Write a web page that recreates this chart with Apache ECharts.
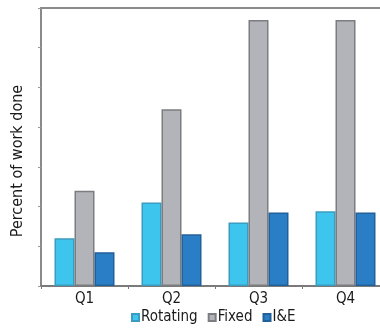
<!DOCTYPE html>
<html>
<head>
<meta charset="utf-8">
<script src="https://cdn.jsdelivr.net/npm/echarts@6/dist/echarts.min.js"></script>
<style>
  html, body { margin: 0; padding: 0; background: #fff; overflow: hidden; }
  /* the plot runs a little past the right edge of the view, so the canvas is wider */
  #chart { width: 392px; height: 331px; }
</style>
</head>
<body>
<div id="chart"></div>
<script>
// Quarterly share of work done, by maintenance type
const quarters = ['Q1', 'Q2', 'Q3', 'Q4'];
const rotating = [12, 21, 16, 18.8];
const fixed = [24, 44.5, 67, 67];
const iande = [8.5, 13, 18.5, 18.5];

const FONT = '"DejaVu Sans Condensed", "Liberation Sans", Arial, sans-serif';

const chart = echarts.init(document.getElementById('chart'), null, { renderer: 'canvas' });
chart.setOption({
  animation: false,
  grid: { left: 41, top: 8, right: 3, bottom: 45 },
  legend: {
    bottom: 1, left: 126,
    itemWidth: 7, itemHeight: 7, itemGap: 10,
    icon: 'rect',
    textStyle: { fontFamily: FONT, fontSize: 15, color: '#1a1a1a', padding: [0, 0, 0, -3] },
    data: ['Rotating', 'Fixed', 'I&E']
  },
  xAxis: [
    {
      type: 'category',
      data: quarters,
      axisLine: { lineStyle: { color: '#7a7a7a', width: 2 } },
      axisTick: { show: true, length: 3, lineStyle: { color: '#7a7a7a' } },
      axisLabel: { fontFamily: FONT, fontSize: 15, color: '#1a1a1a', margin: 6 }
    },
    {
      // plain frame line along the top of the plot
      type: 'category',
      data: quarters,
      position: 'top',
      axisLine: { lineStyle: { color: '#8a8a8a', width: 2 } },
      axisTick: { show: false },
      axisLabel: { show: false }
    }
  ],
  yAxis: {
    type: 'value',
    min: 0, max: 70, interval: 10,
    name: 'Percent of work done',
    nameLocation: 'middle',
    nameGap: 15,
    nameTextStyle: { fontFamily: FONT, fontSize: 16, color: '#1a1a1a', padding: [0, 28, 0, 0] },
    axisLine: { show: true, lineStyle: { color: '#8a8a8a', width: 2 } },
    axisTick: { show: true, length: 3, lineStyle: { color: '#9a9a9a' } },
    axisLabel: { show: false },
    splitLine: { show: false }
  },
  series: [
    {
      name: 'Rotating', type: 'bar', data: rotating,
      barWidth: 20, barGap: '0%',
      itemStyle: { color: '#3ec5ee', borderColor: '#3a9cbf', borderWidth: 1.5 }
    },
    {
      name: 'Fixed', type: 'bar', data: fixed,
      barWidth: 20, barGap: '0%',
      itemStyle: { color: '#b2b4b9', borderColor: '#7b7d80', borderWidth: 1.5 }
    },
    {
      name: 'I&E', type: 'bar', data: iande,
      barWidth: 20, barGap: '0%',
      itemStyle: { color: '#2a7ec5', borderColor: '#22609a', borderWidth: 1.5 }
    }
  ]
});
</script>
</body>
</html>
